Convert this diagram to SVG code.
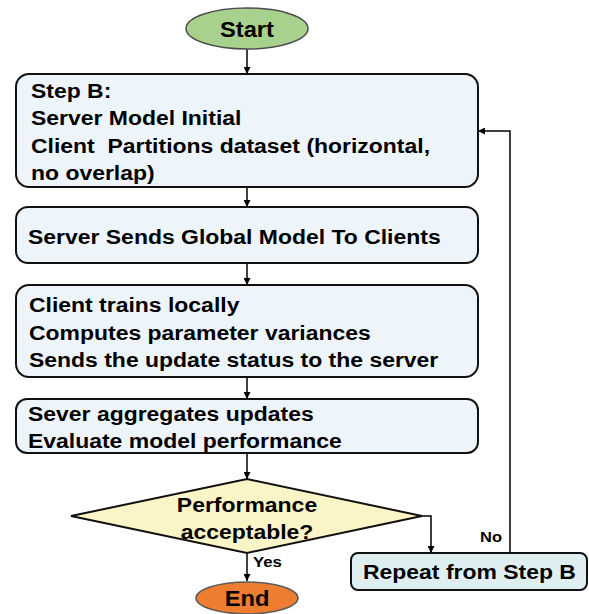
<svg xmlns="http://www.w3.org/2000/svg" width="589" height="614" viewBox="0 0 589 614">
  <defs>
    <marker id="arrow" viewBox="0 0 10 10" refX="10" refY="5" markerWidth="7" markerHeight="7" markerUnits="userSpaceOnUse" orient="auto">
      <path d="M0,0 L10,5 L0,10 z" fill="#000"/>
    </marker>
    <style>
      .box { fill: #eef5fa; stroke: #111; stroke-width: 2; }
      .repeat { fill: #dfeff1; stroke: #111; stroke-width: 2; }
      .t { font-family: "Liberation Sans", Arial, sans-serif; font-weight: bold; font-size: 20.5px; fill: #000; }
      .big { font-size: 21.5px; }
      .lbl { font-family: "Liberation Sans", Arial, sans-serif; font-weight: bold; font-size: 15px; fill: #000; }
      .mid { text-anchor: middle; }
      .edge { fill: none; stroke: #000; stroke-width: 1.5; }
    </style>
  </defs>

  <rect width="589" height="614" fill="#ffffff"/>

  <!-- connectors -->
  <g id="connectors">
    <line class="edge" x1="247" y1="49" x2="247" y2="74" marker-end="url(#arrow)"/>
    <line class="edge" x1="247" y1="187" x2="247" y2="207" marker-end="url(#arrow)"/>
    <line class="edge" x1="247" y1="263" x2="247" y2="285" marker-end="url(#arrow)"/>
    <line class="edge" x1="247" y1="377" x2="247" y2="399" marker-end="url(#arrow)"/>
    <line class="edge" x1="247" y1="453" x2="247" y2="479" marker-end="url(#arrow)"/>
    <line class="edge" x1="247" y1="553" x2="247" y2="581" marker-end="url(#arrow)"/>
    <polyline class="edge" points="422,516 431,516 431,553" marker-end="url(#arrow)"/>
    <polyline class="edge" points="510,553 510,131 478,131" marker-end="url(#arrow)"/>
    <text class="lbl" transform="translate(253 567) scale(1.12 1)">Yes</text>
    <text class="lbl" transform="translate(480 542) scale(1.1 1)">No</text>
  </g>

  <g id="start">
    <ellipse cx="247" cy="28.5" rx="61" ry="20.5" fill="#a9d18e" stroke="#4d4d4d" stroke-width="1.5"/>
    <text class="t big mid" transform="translate(247 36.5) scale(1.1 1)">Start</text>
  </g>

  <g id="stepB">
    <rect class="box" x="16" y="74" width="462" height="113" rx="13"/>
    <text class="t" xml:space="preserve" transform="translate(31 98) scale(1.12 1)"><tspan x="0" y="0">Step B:</tspan><tspan x="0" y="27.5">Server Model Initial</tspan><tspan x="0" y="55">Client  Partitions dataset (horizontal,</tspan><tspan x="0" y="82.5">no overlap)</tspan></text>
  </g>

  <g id="sendGlobal">
    <rect class="box" x="16" y="207" width="462" height="56" rx="12"/>
    <text class="t" transform="translate(28 244) scale(1.12 1)">Server Sends Global Model To Clients</text>
  </g>

  <g id="clientTrain">
    <rect class="box" x="16" y="285" width="462" height="92" rx="13"/>
    <text class="t" transform="translate(29 312) scale(1.12 1)"><tspan x="0" y="0">Client trains locally</tspan><tspan x="0" y="28">Computes parameter variances</tspan><tspan x="0" y="55">Sends the update status to the server</tspan></text>
  </g>

  <g id="aggregate">
    <rect class="box" x="16" y="399" width="462" height="54" rx="11"/>
    <text class="t" transform="translate(28 421) scale(1.12 1)"><tspan x="0" y="0">Sever aggregates updates</tspan><tspan x="0" y="27">Evaluate model performance</tspan></text>
  </g>

  <g id="decision">
    <polygon points="247,479 422,516 247,553 71,516" fill="#fbf4c6" stroke="#111" stroke-width="2"/>
    <text class="t mid" transform="translate(247 512) scale(1.12 1)"><tspan x="0" y="0">Performance</tspan><tspan x="0" y="27">acceptable?</tspan></text>
  </g>

  <g id="repeat">
    <rect class="repeat" x="351" y="553" width="236" height="37" rx="7"/>
    <text class="t" transform="translate(363 579) scale(1.12 1)">Repeat from Step B</text>
  </g>

  <g id="end">
    <ellipse cx="247" cy="598" rx="51" ry="16" fill="#ed7d31" stroke="#5a5a5a" stroke-width="1.5"/>
    <text class="t big mid" transform="translate(247 605.5) scale(1.1 1)">End</text>
  </g>
</svg>
